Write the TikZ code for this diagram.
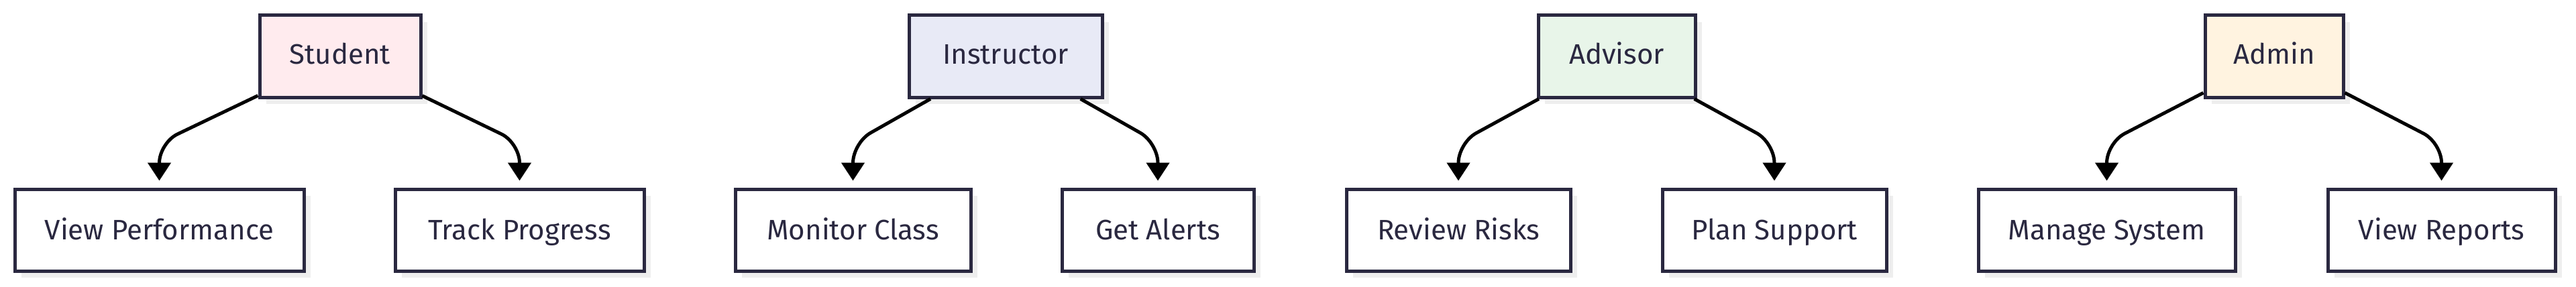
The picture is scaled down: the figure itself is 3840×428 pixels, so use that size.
\documentclass[tikz,border=0pt]{standalone}
\usepackage{fontspec}
\setmainfont{Fira Sans}
\usetikzlibrary{arrows.meta,shadows}
\definecolor{ink}{HTML}{2A2840}
\definecolor{shadowc}{HTML}{EEEEEE}
\definecolor{fstu}{HTML}{FFEBEE}
\definecolor{fins}{HTML}{E8EAF6}
\definecolor{fadv}{HTML}{E8F5E9}
\definecolor{fadm}{HTML}{FFF3E0}
\begin{document}
\begin{tikzpicture}[x=1pt,y=-1pt,
  box/.style={draw=ink, line width=5pt, text=ink, fill=white, inner sep=0pt,
    minimum height=122pt, font=\fontsize{42}{50}\selectfont,
    text height=38pt, text depth=10pt,
    drop shadow={shadow xshift=10pt, shadow yshift=-10pt, fill=shadowc, opacity=1}},
  topbox/.style={box, text height=35pt, text depth=12pt},
  conn/.style={draw=black, line width=5pt, rounded corners=30pt,
    -{Triangle[width=34pt,length=27pt]}, shorten >=10pt}]
\fill[white] (0,0) rectangle (3840,428);
\useasboundingbox (0,0) rectangle (3840,428);
% top nodes
\node[topbox, fill=fstu, minimum width=240pt] (stu) at (507,84) {Student};
\node[topbox, fill=fins, minimum width=288pt] (ins) at (1499,84) {Instructor};
\node[topbox, fill=fadv, minimum width=234pt] (adv) at (2410,84) {Advisor};
\node[topbox, fill=fadm, minimum width=206pt] (adm) at (3390,84) {Admin};
% bottom nodes
\node[box, minimum width=431pt] (vp) at (237.5,343) {View Performance};
\node[box, minimum width=371pt] (tp) at (774.5,343) {Track Progress};
\node[box, minimum width=351pt] (mc) at (1271.5,343) {Monitor Class};
\node[box, minimum width=286pt] (ga) at (1726,343) {Get Alerts};
\node[box, minimum width=334pt] (rr) at (2174,343) {Review Risks};
\node[box, minimum width=334pt] (ps) at (2645,343) {Plan Support};
\node[box, minimum width=383pt] (ms) at (3140.5,343) {Manage System};
\node[box, minimum width=339pt] (vr) at (3639.5,343) {View Reports};
% connectors
\foreach \p/\c in {stu/vp, stu/tp, ins/mc, ins/ga, adv/rr, adv/ps, adm/ms, adm/vr}{
  \draw[conn] (\p) -- ([yshift=66.5pt]\c.north) -- (\c);
}
\end{tikzpicture}
\end{document}
